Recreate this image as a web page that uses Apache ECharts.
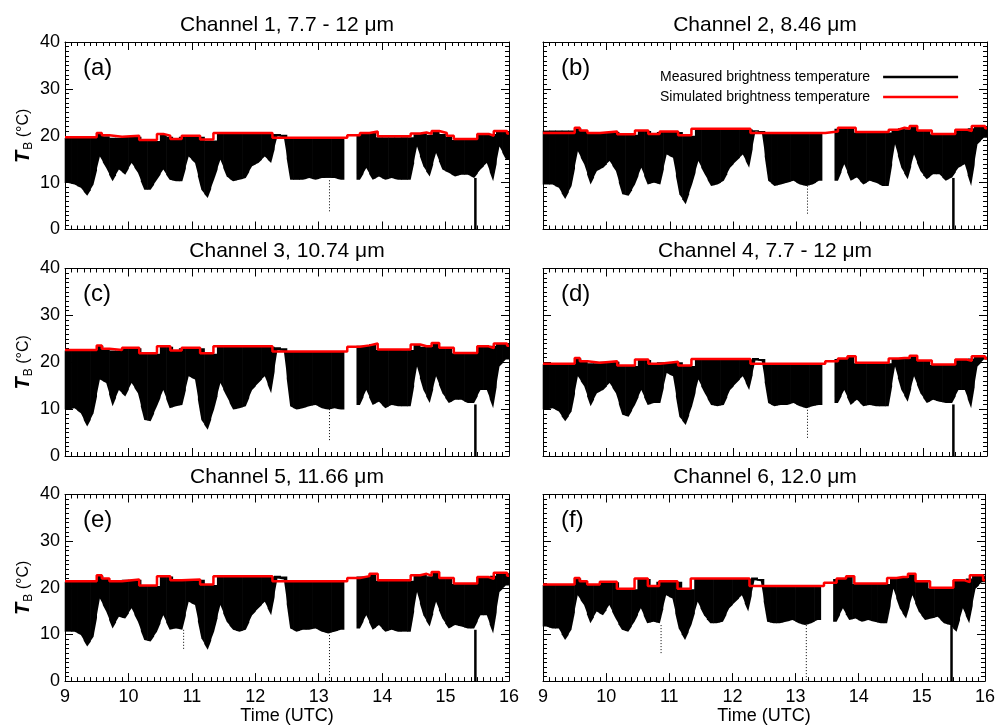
<!DOCTYPE html>
<html><head><meta charset="utf-8">
<script src="https://cdn.jsdelivr.net/npm/echarts@6/dist/echarts.min.js"></script>
<style>html,body{margin:0;padding:0;background:#fff}#c{width:998px;height:726px}</style>
</head><body><div id="c"></div>
<script>
// ---------------- DATA ----------------
const channelTitles = ['Channel 1, 7.7 - 12 \u03bcm', 'Channel 2, 8.46 \u03bcm', 'Channel 3, 10.74 \u03bcm',
                       'Channel 4, 7.7 - 12 \u03bcm', 'Channel 5, 11.66 \u03bcm', 'Channel 6, 12.0 \u03bcm'];
const panelLetters = ['(a)', '(b)', '(c)', '(d)', '(e)', '(f)'];
const xTicks = [9, 10, 11, 12, 13, 14, 15, 16];
const yTicks = [0, 10, 20, 30, 40];

// simulated brightness temperature: step start times (h UTC) and values (°C)
const stepStart = [9.0, 9.5, 9.58, 9.7, 9.9, 10.17, 10.45, 10.55, 10.66, 10.84, 11.13, 11.34, 12.27, 13.45,
                   13.65, 13.8, 13.93, 14.45, 14.6, 14.7, 14.78, 14.9, 15.02, 15.13, 15.5, 15.68, 15.76, 15.97];
const simCh1 = [19.7,20.6,20.1,19.8,20.0,19.1,20.4,20.0,19.3,20.0,19.2,20.6,19.6,20.1,20.6,20.9,19.9,20.5,20.7,20.4,21.0,20.6,20.0,19.3,20.4,20.0,21.0,20.5];
const simCh2 = [20.6,21.7,21.1,20.6,20.9,20.3,21.1,21.1,20.4,20.9,20.1,21.5,20.6,20.9,21.7,21.7,20.8,21.3,21.7,21.5,22.1,21.1,21.1,20.4,21.3,21.0,22.1,21.6];
const simCh3 = [22.6,23.6,22.9,22.6,23.1,21.9,23.4,23.4,22.5,23.1,21.9,23.4,22.3,23.3,23.6,24.0,22.7,23.8,23.4,23.4,24.1,23.1,23.1,22.0,23.4,23.0,24.0,23.5];
const simCh4 = [19.7,20.9,20.2,19.9,20.2,19.3,20.6,20.6,19.7,20.1,19.3,20.7,19.7,20.2,20.8,21.3,19.9,20.8,20.9,20.9,21.4,20.4,20.4,19.5,20.6,20.3,21.3,20.8];
const simCh5 = [21.4,22.7,22.0,21.4,21.8,20.5,22.5,22.5,21.6,21.8,20.7,22.5,21.4,22.1,22.5,23.0,21.6,22.7,23.0,22.6,23.4,22.1,22.1,20.9,22.3,21.9,23.2,22.6];
const simCh6 = [20.7,22.1,21.4,20.7,21.3,19.8,22.0,22.0,20.4,21.4,19.8,22.0,20.4,21.1,22.0,22.5,20.9,22.1,22.3,22.3,23.0,21.4,21.4,20.0,21.6,21.2,22.7,21.6];

// measured brightness temperature: range (lowest / highest) in 0.1 h bins from 9.0 to 16.0 UTC
const measLowCh1 = [9.9,9.6,8.9,7.2,9.6,15.6,13.1,10.3,12.8,11.7,14.2,12.1,8.5,8.5,10.6,12.8,10.6,10.3,10.3,15.6,
  14.2,8.5,6.7,10.6,14.9,11.3,10.3,10.6,11.0,13.5,14.2,15.6,14.2,19.9,19.7,10.6,10.6,10.6,11.0,10.6,
  11.0,11.0,11.0,10.6,null,null,10.6,13.1,10.6,11.3,10.6,11.0,10.6,10.6,10.6,17.7,13.5,11.3,16.3,12.8,
  12.1,11.3,11.7,11.7,11.0,12.8,14.2,10.3,17.7,15.0];
const measTopCh1 = [19.5,19.5,19.5,19.5,19.5,20.4,19.9,19.6,19.6,19.8,19.8,19.8,18.9,18.9,18.9,20.2,19.8,19.1,19.8,19.8,
  19.8,19.8,19.0,19.0,20.4,20.4,20.4,20.4,20.4,20.4,20.4,20.4,20.4,20.4,20.2,19.4,19.4,19.4,19.4,19.4,
  19.4,19.4,19.4,19.4,null,null,20.4,20.4,20.7,19.7,19.7,19.7,19.7,19.7,19.7,20.3,20.5,20.2,20.8,20.4,
  19.8,19.1,19.1,19.1,19.1,20.2,20.2,20.4,20.8,20.8];
const measLowCh2 = [9.6,9.6,8.9,6.5,9.3,16.7,13.9,9.6,12.5,13.2,14.6,12.5,7.5,7.2,9.6,13.2,9.6,10.0,9.6,16.0,
  15.3,7.5,5.4,9.6,14.6,11.8,9.3,9.6,10.4,13.2,14.6,16.0,13.2,20.9,20.7,10.4,9.3,9.6,10.0,10.4,
  9.6,9.3,9.6,10.4,null,null,10.4,13.9,10.4,11.1,9.6,10.4,10.0,9.3,9.3,18.2,13.2,10.7,16.0,12.5,
  10.7,11.8,11.8,10.4,11.1,13.2,13.9,9.3,18.2,19.6];
const measTopCh2 = [21.1,21.1,21.1,21.1,21.1,21.6,21.0,20.6,20.6,20.8,20.8,20.8,20.2,20.2,20.2,21.0,21.0,20.3,20.8,20.8,
  20.8,20.8,20.0,20.0,21.4,21.4,21.4,21.4,21.4,21.4,21.4,21.4,21.4,21.2,21.0,20.5,20.5,20.5,20.5,20.5,
  20.5,20.5,20.5,20.5,null,null,21.5,21.5,21.6,20.7,20.7,20.7,20.7,20.7,20.7,21.2,21.6,21.4,22.0,21.0,
  21.0,20.3,20.3,20.3,20.3,21.2,21.2,21.6,22.0,22.0];
const measLowCh3 = [9.9,10.2,9.1,6.3,9.1,16.3,15.6,10.6,14.1,12.7,15.6,13.4,7.7,7.4,10.6,14.1,10.2,10.6,10.9,17.0,
  16.3,7.7,5.6,9.9,15.6,12.7,9.9,10.2,10.6,14.1,15.6,17.0,13.4,22.6,22.4,10.6,9.9,10.2,10.6,10.9,
  10.2,9.9,10.2,9.9,null,null,10.9,14.1,10.9,11.6,10.2,10.9,10.6,10.6,10.6,19.1,14.1,11.3,17.0,13.4,
  11.3,12.0,12.0,11.3,11.3,14.1,14.1,10.2,19.1,20.6];
const measTopCh3 = [22.5,22.5,22.5,22.5,22.5,23.5,22.8,22.5,22.5,23.0,23.0,23.0,21.8,21.8,21.8,23.3,23.3,22.4,23.0,23.0,
  23.0,23.0,21.8,21.8,23.3,23.3,23.3,23.3,23.3,23.3,23.3,23.3,23.3,23.2,23.0,22.2,22.2,22.2,22.2,22.2,
  22.2,22.2,22.2,22.2,null,null,23.5,23.5,23.9,22.6,22.6,22.6,22.6,22.6,22.6,23.7,23.3,23.3,24.0,23.0,
  23.0,21.9,21.9,21.9,21.9,23.3,23.3,23.5,23.9,23.9];
const measLowCh4 = [9.9,10.2,9.5,7.4,9.5,17.0,14.9,10.6,13.4,14.1,15.6,13.4,8.8,8.4,10.9,14.1,10.9,11.3,11.3,17.7,
  17.0,8.4,6.6,10.6,16.3,13.4,10.9,10.6,10.9,14.1,15.6,17.0,14.1,20.4,20.2,11.3,10.6,10.9,10.9,11.3,
  10.6,10.2,10.6,10.9,null,null,11.3,14.1,10.9,12.0,10.6,10.9,10.6,10.6,10.6,19.1,14.1,11.6,17.0,13.4,
  11.3,12.0,11.6,11.3,11.3,14.1,14.1,10.2,19.1,20.6];
const measTopCh4 = [19.6,19.6,19.6,19.6,19.6,20.8,20.1,19.8,19.8,20.1,20.1,20.1,19.2,19.2,19.2,20.5,20.5,19.6,20.0,20.0,
  20.0,20.0,19.2,19.2,20.6,20.6,20.6,20.6,20.6,20.6,20.6,20.6,20.6,20.9,20.7,19.6,19.6,19.6,19.6,19.6,
  19.6,19.6,19.6,19.6,null,null,20.7,20.7,21.2,19.8,19.8,19.8,19.8,19.8,19.8,20.7,20.8,20.8,21.3,20.3,
  20.3,19.4,19.4,19.4,19.4,20.5,20.5,20.8,21.2,21.2];
const measLowCh5 = [10.6,10.6,9.9,7.4,9.5,17.7,14.9,11.3,13.8,13.4,15.6,12.7,8.8,8.5,10.6,14.1,11.0,11.3,11.0,17.0,
  16.3,9.2,6.7,10.6,16.3,12.7,11.0,10.6,11.0,14.1,15.6,17.0,14.1,22.0,21.8,11.3,10.6,11.0,11.0,11.3,
  10.6,10.2,10.6,11.0,null,null,11.3,14.1,11.0,12.0,10.6,11.0,10.6,10.6,10.6,19.1,14.1,11.7,17.0,13.4,
  11.3,12.0,11.7,11.3,11.3,14.1,14.1,10.2,19.1,20.5];
const measTopCh5 = [21.3,21.3,21.3,21.3,21.3,22.6,21.9,21.3,21.3,21.7,21.7,21.7,20.4,20.4,20.4,22.4,22.4,21.5,21.7,21.7,
  21.7,21.7,20.6,20.6,22.4,22.4,22.4,22.4,22.4,22.4,22.4,22.4,22.4,22.6,22.4,21.3,21.3,21.3,21.3,21.3,
  21.3,21.3,21.3,21.3,null,null,22.4,22.4,22.9,21.5,21.5,21.5,21.5,21.5,21.5,22.6,22.9,22.5,23.3,22.0,
  22.0,20.8,20.8,20.8,20.8,22.2,22.2,22.6,23.1,23.1];
const measLowCh6 = [11.7,11.3,11.3,8.8,11.0,18.4,16.3,12.4,14.9,14.1,16.3,13.4,11.0,10.6,12.7,15.6,12.4,12.7,12.4,18.4,
  17.7,11.3,8.8,12.0,17.0,14.1,12.4,12.4,12.7,15.6,17.0,18.4,14.9,21.6,21.4,12.7,12.4,12.4,12.7,13.1,
  12.4,12.0,12.4,13.1,null,null,12.7,15.6,13.1,13.4,12.7,13.1,12.7,12.4,12.4,19.8,15.6,13.4,18.4,14.9,
  13.1,13.4,13.8,12.4,12.0,10.6,15.6,12.4,19.8,21.2];
const measTopCh6 = [20.6,20.6,20.6,20.6,20.6,22.0,21.3,20.6,20.6,21.2,21.2,21.2,19.7,19.7,19.7,21.9,21.9,20.3,21.3,21.3,
  21.3,21.3,19.7,19.7,21.9,21.9,21.9,21.9,21.9,21.9,21.9,21.9,21.9,22.2,21.9,20.3,20.3,20.3,20.3,20.3,
  20.3,20.3,20.3,20.3,null,null,21.9,21.9,22.4,20.8,20.8,20.8,20.8,20.8,20.8,22.0,22.2,22.2,22.9,21.3,
  21.3,19.9,19.9,19.9,19.9,21.5,21.5,22.0,22.6,22.6];

// isolated deep drops in the measured record: [time, from °C, to °C]
const dropsSolid = [[[15.47, 11, 0]], [[15.47, 11, 0]], [[15.47, 11, 0]], [[15.47, 11, 0]], [[15.47, 11, 0]], [[15.47, 12, 0]]];
const dropsDotted = [[[13.17, 10.5, 3.5]], [[13.17, 10, 3.3]], [[13.17, 10, 3.0]], [[13.17, 10.5, 3.8]],
                     [[10.87, 11, 6.5], [13.17, 10.5, 0]], [[10.87, 12, 5.6], [13.17, 12, 0]]];

const simAll = [simCh1, simCh2, simCh3, simCh4, simCh5, simCh6];
const lowAll = [measLowCh1, measLowCh2, measLowCh3, measLowCh4, measLowCh5, measLowCh6];
const topAll = [measTopCh1, measTopCh2, measTopCh3, measTopCh4, measTopCh5, measTopCh6];
const BIN = 0.1;
const binStart = measLowCh1.map((_, i) => +(9 + BIN * i).toFixed(2));

// ---------------- LAYOUT ----------------
const FONT = '"Liberation Sans", Arial, Helvetica, sans-serif';
const colLeft = [65, 543];
const rowTop = [42, 268.5, 494.5];
const W = 444, H = 187.5;
const MEAS = 'Measured brightness temperature';
const SIM = 'Simulated brightness temperature';

const grids = [], xAxes = [], yAxes = [], series = [], graphics = [];
const tickCommon = {
  axisLine: {show: true, onZero: false, lineStyle: {color: '#000', width: 1}},
  axisTick: {show: true, inside: true, length: 8, lineStyle: {color: '#000', width: 1}},
  splitLine: {show: false}, minorSplitLine: {show: false}
};

function makeBinRenderer(measData) {
  return function (params, api) {
    const i = params.dataIndex, cur = measData[i];
    const near = (j, dt) => (j >= 0 && j < measData.length && Math.abs(measData[j][0] - (cur[0] + dt)) < 1e-6) ? measData[j] : null;
    const prev = near(i - 1, -BIN), next = near(i + 1, BIN);
    const t0 = cur[0], t1 = t0 + BIN, tc = t0 + BIN / 2;
    const lL = prev ? (prev[1] + cur[1]) / 2 : cur[1];
    const lR = next ? (next[1] + cur[1]) / 2 : cur[1];
    const a = api.coord([t0, cur[2]]), b = api.coord([t1, cur[2]]);
    const c = api.coord([t1, lR]), d = api.coord([tc, cur[1]]), e = api.coord([t0, lL]);
    const pad = 0.3;
    return {type: 'polygon', shape: {points: [[a[0] - pad, a[1]], [b[0] + pad, b[1]], [c[0] + pad, c[1]], d, [e[0] - pad, e[1]]]},
            style: {fill: '#000'}};
  };
}

for (let p = 0; p < 6; p++) {
  const col = p % 2, row = Math.floor(p / 2);
  grids.push({left: colLeft[col], top: rowTop[row], width: W, height: H, containLabel: false});
  const xBase = Object.assign({}, tickCommon, {
    gridIndex: p, type: 'value', min: xTicks[0], max: xTicks[xTicks.length - 1], interval: 1,
    minorTick: {show: true, splitNumber: 10, length: 4, lineStyle: {color: '#000', width: 1}}
  });
  xAxes.push(Object.assign({}, xBase, {
    position: 'bottom',
    axisLabel: {show: row === 2, fontSize: 18, color: '#000', margin: 7, fontFamily: FONT},
    name: row === 2 ? 'Time (UTC)' : '', nameLocation: 'middle', nameGap: 25,
    nameTextStyle: {fontSize: 18, color: '#000', fontFamily: FONT}
  }));
  xAxes.push(Object.assign({}, xBase, {position: 'top', axisLabel: {show: false}}));
  const yBase = Object.assign({}, tickCommon, {
    gridIndex: p, type: 'value', min: yTicks[0], max: yTicks[yTicks.length - 1], interval: 10,
    minorTick: {show: true, splitNumber: 10, length: 4, lineStyle: {color: '#000', width: 1}}
  });
  yAxes.push(Object.assign({}, yBase, {
    position: 'left',
    axisLabel: {show: col === 0, fontSize: 18, color: '#000', margin: 5, fontFamily: FONT},
    name: col === 0 ? '{t|T}{s|B}{n| (\u00b0C)}' : '', nameLocation: 'middle', nameRotate: 90, nameGap: 30,
    nameTextStyle: {fontFamily: FONT, color: '#000', rich: {
      t: {fontSize: 20, fontStyle: 'italic', fontWeight: 'bold', fontFamily: FONT, color: '#000'},
      s: {fontSize: 12, fontFamily: FONT, color: '#000', padding: [11, 0, 0, 1]},
      n: {fontSize: 16, fontFamily: FONT, color: '#000'}
    }}
  }));
  yAxes.push(Object.assign({}, yBase, {position: 'right', axisLabel: {show: false}}));

  const xi = 2 * p, yi = 2 * p;
  const low = lowAll[p], top = topAll[p];
  const measData = [];
  binStart.forEach((t, i) => { if (low[i] != null && top[i] != null) measData.push([t, low[i], top[i]]); });
  series.push({
    name: MEAS, type: 'custom', xAxisIndex: xi, yAxisIndex: yi, z: 2, silent: true,
    encode: {x: 0, y: [1, 2]}, data: measData, itemStyle: {color: '#000'},
    renderItem: makeBinRenderer(measData)
  });
  [[dropsSolid[p], false], [dropsDotted[p], true]].forEach(([arr, dotted]) => {
    series.push({
      name: MEAS, type: 'custom', xAxisIndex: xi, yAxisIndex: yi, z: 2, silent: true,
      encode: {x: 0, y: [1, 2]}, data: arr, itemStyle: {color: '#000'},
      renderItem: function (params, api) {
        const a = api.coord([api.value(0), api.value(1)]), b = api.coord([api.value(0), api.value(2)]);
        return {type: 'line', shape: {x1: a[0], y1: a[1], x2: b[0], y2: b[1]},
                style: {stroke: '#000', lineWidth: dotted ? 1 : 2.5, lineDash: dotted ? [1, 2] : null}};
      }
    });
  });
  const sim = simAll[p];
  const simData = stepStart.map((t, i) => [t, sim[i]]);
  simData.push([xTicks[xTicks.length - 1], sim[sim.length - 1]]);
  series.push({
    name: SIM, type: 'line', step: 'end', xAxisIndex: xi, yAxisIndex: yi, z: 4, silent: true,
    showSymbol: false, symbol: 'none', data: simData,
    lineStyle: {color: '#ff0000', width: 2.5}, itemStyle: {color: '#ff0000'}
  });

  graphics.push({type: 'text', x: colLeft[col] + W / 2, y: rowTop[row] - 17, z: 10,
    style: {text: channelTitles[p], fontSize: 21, fontFamily: FONT, fill: '#000', textAlign: 'center', textVerticalAlign: 'middle'}});
  graphics.push({type: 'text', x: colLeft[col] + 18, y: rowTop[row] + 26, z: 10,
    style: {text: panelLetters[p], fontSize: 24, fontFamily: FONT, fill: '#000', textAlign: 'left', textVerticalAlign: 'middle'}});
}

const chart = echarts.init(document.getElementById('c'), null, {renderer: 'canvas'});
chart.setOption({
  animation: false,
  backgroundColor: '#fff',
  textStyle: {fontFamily: FONT},
  grid: grids, xAxis: xAxes, yAxis: yAxes, series: series, graphic: graphics,
  legend: {
    left: 660, top: 70, orient: 'vertical', align: 'right', padding: 0, itemGap: 6,
    itemWidth: 75, itemHeight: 2.5, selectedMode: false,
    textStyle: {fontSize: 14, color: '#000', fontFamily: FONT, padding: [0, 8, 0, 0]},
    data: [
      {name: MEAS, icon: 'rect', itemStyle: {color: '#000'}},
      {name: SIM, icon: 'rect', itemStyle: {color: '#ff0000'}}
    ]
  }
});
</script></body></html>
